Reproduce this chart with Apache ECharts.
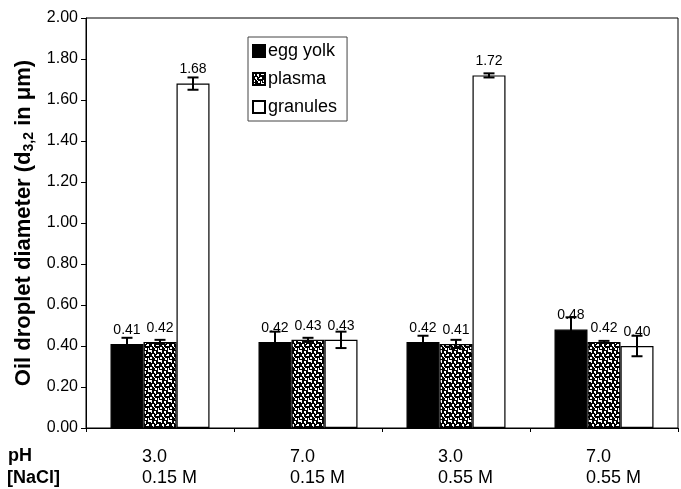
<!DOCTYPE html>
<html>
<head>
<meta charset="utf-8">
<script src="https://cdn.jsdelivr.net/npm/echarts@6/dist/echarts.min.js"></script>
<style>html,body{margin:0;padding:0;background:#fff}#c{width:681px;height:489px}</style>
</head>
<body>
<div id="c"></div>
<script>
// ---- data ----
const phLabels = ['3.0', '7.0', '3.0', '7.0'];
const naclLabels = ['0.15 M', '0.15 M', '0.55 M', '0.55 M'];
const seriesNames = ['egg yolk', 'plasma', 'granules'];
const eggYolk = [0.41, 0.42, 0.42, 0.48];
const plasma = [0.42, 0.43, 0.41, 0.42];
const granules = [1.68, 0.43, 1.72, 0.40];
const eggYolkErr = [0.03, 0.05, 0.03, 0.06];
const plasmaErr = [0.01, 0.01, 0.02, 0.005];
const granulesErr = [0.03, 0.04, 0.01, 0.05];
const yTicks = [0, 0.2, 0.4, 0.6, 0.8, 1.0, 1.2, 1.4, 1.6, 1.8, 2.0];

const FONT = '"Liberation Sans", Arial, sans-serif';
const BAR_FRAC = 0.223;

// plasma pattern tile
function makePattern() {
  const c = document.createElement('canvas');
  c.width = 10; c.height = 10;
  const g = c.getContext('2d');
  g.fillStyle = '#000'; g.fillRect(0, 0, 10, 10);
  g.fillStyle = '#fff';
  [[0,0,2,2],[1,2,1,1],[4,1,2,2],[5,3,1,1],[8,0,2,2],
   [2,4,2,2],[3,6,1,1],[7,4,2,2],[6,5,1,1],
   [0,7,2,2],[5,8,2,2],[4,7,1,1],[8,8,1,2]].forEach(r => g.fillRect(r[0], r[1], r[2], r[3]));
  return c;
}
const pattern = { image: makePattern(), repeat: 'repeat' };

const values = [eggYolk, plasma, granules];
const errs = [eggYolkErr, plasmaErr, granulesErr];
const fills = ['#000', pattern, '#fff'];

const categories = phLabels.map((p, i) => p + '\n' + naclLabels[i]);

const series = [];
values.forEach((vals, si) => {
  series.push({
    name: seriesNames[si],
    type: 'bar',
    data: vals,
    barWidth: (BAR_FRAC * 100) + '%',
    barGap: '0%',
    itemStyle: { color: fills[si], borderColor: '#000', borderWidth: 1.2 },
    label: {
      show: true, position: 'top', distance: 7,
      formatter: p => p.value.toFixed(2),
      fontFamily: FONT, fontSize: 14, color: '#000'
    },
    z: 2
  });
});

// error bars
values.forEach((vals, si) => {
  series.push({
    type: 'custom',
    name: 'err' + si,
    data: vals.map((v, i) => [i, v, errs[si][i]]),
    encode: { x: 0, y: 1 },
    z: 5,
    silent: true,
    renderItem: function (params, api) {
      const ci = api.value(0), v = api.value(1), e = api.value(2);
      const band = api.size([1, 0])[0];
      const bw = band * BAR_FRAC;
      const c = api.coord([ci, v]);
      const x = c[0] + (si - 1) * bw;
      const top = api.coord([ci, v + e])[1];
      const bot = api.coord([ci, v - e])[1];
      const cap = 5.5;
      const st = { stroke: '#000', lineWidth: 2 };
      return {
        type: 'group',
        children: [
          { type: 'line', shape: { x1: x, y1: top, x2: x, y2: bot }, style: st },
          { type: 'line', shape: { x1: x - cap, y1: top, x2: x + cap, y2: top }, style: st },
          { type: 'line', shape: { x1: x - cap, y1: bot, x2: x + cap, y2: bot }, style: st }
        ]
      };
    }
  });
});

const chart = echarts.init(document.getElementById('c'), null, { renderer: 'canvas' });
chart.setOption({
  animation: false,
  backgroundColor: '#fff',
  textStyle: { fontFamily: FONT },
  grid: { left: 86, right: 3, top: 18, bottom: 61, show: true, borderColor: '#000', borderWidth: 1, containLabel: false },
  legend: {
    data: seriesNames,
    orient: 'vertical',
    left: 248, top: 37,
    itemWidth: 12, itemHeight: 12, itemGap: 10,
    borderColor: '#444', borderWidth: 1,
    padding: [5, 10, 5, 4],
    icon: 'rect',
    textStyle: { fontFamily: FONT, fontSize: 18, color: '#000', padding: [0, 0, 0, -2] }
  },
  xAxis: {
    type: 'category',
    data: categories,
    axisLine: { lineStyle: { color: '#000', width: 1 } },
    axisTick: { show: true, length: 4, lineStyle: { color: '#000' } },
    axisLabel: {
      margin: 19,
      formatter: function (v) {
        const parts = v.split('\n');
        return '{a|' + parts[0] + '}\n{a|' + parts[1] + '}';
      },
      rich: { a: { width: 36, align: 'left', fontSize: 18, lineHeight: 21, color: '#000', fontFamily: FONT } }
    },
    splitLine: { show: false }
  },
  yAxis: {
    type: 'value',
    min: yTicks[0], max: yTicks[yTicks.length - 1], interval: 0.2,
    axisLine: { show: true, lineStyle: { color: '#000', width: 1 } },
    axisTick: { show: true, length: 5, lineStyle: { color: '#000' } },
    axisLabel: { formatter: v => v.toFixed(2), fontSize: 16, color: '#000', margin: 8, fontFamily: FONT },
    splitLine: { show: false },
    name: '{t|Oil droplet diameter (d}{s|3,2}{t| in μm)}',
    nameLocation: 'middle',
    nameGap: 45,
    nameTextStyle: {
      rich: {
        t: { fontSize: 22, fontWeight: 'bold', color: '#000', fontFamily: FONT },
        s: { fontSize: 14, fontWeight: 'bold', color: '#000', fontFamily: FONT, padding: [10, 0, 0, 0] }
      }
    }
  },
  graphic: [
    { type: 'text', left: 8, top: 447, style: { text: 'pH', font: 'bold 18px ' + FONT, fill: '#000' } },
    { type: 'text', left: 7, top: 469, style: { text: '[NaCl]', font: 'bold 18px ' + FONT, fill: '#000' } }
  ],
  series: series
});
</script>
</body>
</html>
